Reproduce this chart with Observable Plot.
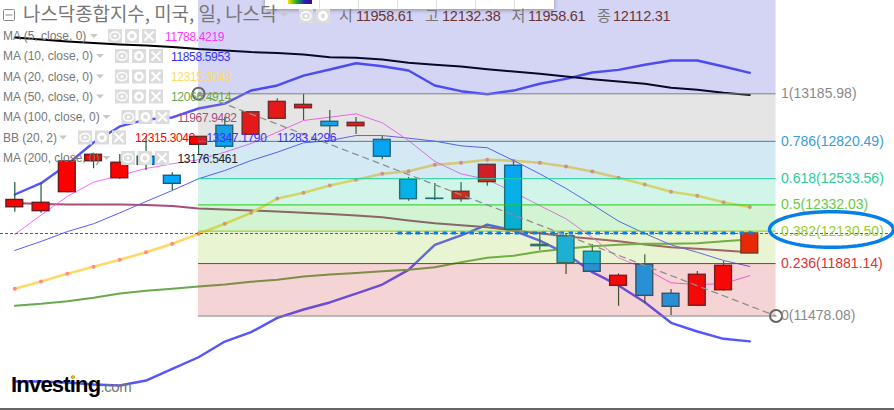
<!DOCTYPE html>
<html><head><meta charset="utf-8">
<script src="https://cdn.jsdelivr.net/npm/d3@7"></script>
<script src="https://cdn.jsdelivr.net/npm/@observablehq/plot@0.6"></script>
<style>html,body{margin:0;background:#fff}svg{display:block}</style>
</head><body><div id="chart"></div>
<script>
const open  = [12314,12284,12430,12668,12537,12702,12556,12794,12940,12871,12994,13075,12971,12937,12832,12525,12380,12376,12507,12633,12025,12091,11972,11710,11874,11649,11557,11676,11958.61];
const high  = [12504,12499,12672,12729,12719,12858,12579,12858,13006,13050,13148,13181,13058,13004,12858,12543,12497,12504,12645,12660,12122,12112,12028,11802,11948,11682,11820,11897,12132.38];
const low   = [12276,12268,12426,12610,12527,12596,12443,12712,12763,12865,12990,12981,12852,12873,12679,12360,12366,12353,12476,12138,11982,11797,11815,11553,11572,11482,11551,11669,11958.61];
const close = [12370,12348,12666,12717,12656,12640,12494,12855,12779,13044,13124,13101,12937,12963,12702,12376,12378,12433,12640,12141,12015,11884,11818,11787,11633,11549,11795,11864,12112.31];

const ma5   = [12105,12254,12397,12507,12558,12612,12648,12679,12737,12804,12891,12981,13006,13032,12963,12827,12666,12571,12527,12430,12327,12225,12081,11925,11843,11733,11720,11726,11788.42];
const ma10  = [11982,12051,12127,12187,12271,12358,12443,12533,12596,12673,12737,12809,12827,12865,12865,12845,12822,12786,12771,12673,12571,12458,12335,12207,12112,12025,11968,11905,11858.6];
const ma20  = [11687,11743,11802,11856,11910,11968,12033,12110,12187,12271,12381,12425,12481,12525,12571,12591,12640,12656,12679,12671,12656,12627,12589,12540,12489,12433,12402,12353,12315.3];
const ma50  = [11557,11572,11592,11618,11651,11672,11687,11705,11720,11741,11756,11782,11797,11809,11822,11833,11853,11892,11925,11941,11974,11995,12015,12025,12033,12033,12038,12053,12066.49];
const ma100 = [12347,12339,12335,12335,12335,12331,12324,12304,12297,12289,12281,12271,12262,12251,12237,12212,12191,12176,12161,12135,12115,12089,12071,12053,12028,12007,11995,11982,11967.95];
const ma200 = [13619,13603,13588,13576,13565,13557,13546,13530,13519,13507,13500,13488,13467,13463,13450,13424,13409,13396,13375,13357,13340,13319,13298,13280,13263,13232,13217,13194,13176.55];
const bbUp  = [12412,12499,12643,12812,12935,12988,13004,13073,13111,13211,13250,13326,13373,13421,13398,13365,13250,13206,13183,13211,13263,13301,13350,13370,13409,13442,13442,13396,13347.18];
const bbLo  = [10975,10975,10967,10952,10944,10982,11072,11161,11282,11354,11464,11528,11582,11651,11720,11833,12025,12097,12181,12135,12058,11958,11815,11713,11584,11426,11359,11303,11283.43];

const fibRatios = ["1","0.786","0.618","0.5","0.382","0.236","0"];
const fibPrices = [13185.98,12820.49,12533.56,12332.03,12130.50,11881.14,11478.08];
const fibLine   = ["#7f7f7f","#2e86c1","#1fcf9f","#22cc22","#8fc31f","#cc2222","#7f7f7f"];
const fibText   = ["#8a8a8a","#3a9bd5","#2acb9b","#66cc44","#9acd32","#dd3333","#8a8a8a"];
const zoneFill  = ["#2828cd","#7d7d7d","#2391c8","#1ecd91","#23c823","#91c823","#c82828"];
const priceTop = 13903.08, priceBottom = 10751.82, lastClose = 12112.31, markerPrice = 12117;
const fibStart = 7, fibEnd = 29;

const idx = d3.range(open.length);
const candles = idx.map(i => ({i, o: open[i], h: high[i], l: low[i], c: close[i], up: close[i] >= open[i]}));
const series = a => a.map((v, i) => ({i, v}));
const zoneEdges = [priceTop, ...fibPrices];
const zones = zoneFill.map((fill, k) => ({y1: zoneEdges[k], y2: zoneEdges[k + 1], fill}));
const fibs = fibRatios.map((r, k) => ({r, p: fibPrices[k], line: fibLine[k], text: fibText[k], label: `${r}(${fibPrices[k].toFixed(2)})`}));
const halfBody = 0.32;
const lineOf = (a, stroke, w) => Plot.line(series(a), {x: "i", y: "v", stroke, strokeWidth: w, curve: "linear"});
const ell = {cx: 31.11, cy: 12143, rx: 2.36, ry: 137};
const ellipse = d3.range(0, 72).map(k => ({x: ell.cx + ell.rx * Math.cos(k * Math.PI / 36), y: ell.cy + ell.ry * Math.sin(k * Math.PI / 36)}));

const FONT = "'Liberation Sans', sans-serif";
const chart = Plot.plot({
  width: 894, height: 410, margin: 0,
  style: {background: "#fff", fontFamily: FONT},
  x: {domain: [0, 28], range: [14.3, 749.3], axis: null},
  y: {domain: [priceBottom, priceTop], range: [410, 0], axis: null},
  marks: [
    lineOf(bbLo, "#5555ff", 2.4),
    lineOf(bbUp, "#5555ff", 2.4),
    lineOf(ma200, "#000", 2),
    lineOf(ma100, "#a64d79", 2),
    lineOf(ma50, "#6aa84f", 2),
    lineOf(ma20, "#ffd966", 2.6),
    Plot.dot(series(ma20), {x: "i", y: "v", r: 2, fill: "#ff8a80"}),
    lineOf(ma10, "#5a5aff", 1),
    lineOf(ma5, "#ff66ff", 1),
    Plot.ruleX(candles, {x: "i", y1: "h", y2: "l", stroke: "#1e5a3a", strokeWidth: 1.2}),
    Plot.rect(candles, {x1: d => d.i - halfBody, x2: d => d.i + halfBody, y1: "o", y2: "c",
      fill: d => d.up ? "#ff0000" : "#00aaff", stroke: d => d.up ? "#6a1a1a" : "#1c5a70", strokeWidth: 1.4}),
    Plot.rect(zones, {x1: fibStart, x2: fibEnd, y1: "y1", y2: "y2", fill: "fill", fillOpacity: 0.2}),
    Plot.ruleY(fibs, {x1: fibStart, x2: fibEnd, y: "p", stroke: "line", strokeWidth: 1}),
    Plot.ruleY([lastClose], {stroke: "#1f5fff", strokeWidth: 1, strokeDasharray: "3,2"}),
    Plot.ruleY([markerPrice], {x1: 14.6, x2: 28.2, stroke: "#0a7de8", strokeWidth: 3, strokeDasharray: "4.5,4.5"}),
    Plot.line([{i: fibStart, v: fibPrices[0]}, {i: fibEnd, v: fibPrices[6]}], {x: "i", y: "v", stroke: "#8f8f8f", strokeWidth: 1.3, strokeDasharray: "6,5"}),
    Plot.dot([{i: fibStart, v: fibPrices[0]}, {i: fibEnd, v: fibPrices[6]}], {x: "i", y: "v", r: 6, stroke: "#666", strokeWidth: 2, fill: "none"}),
    Plot.text(fibs, {x: fibEnd, y: "p", text: "label", fill: "text", dx: 5, textAnchor: "start", fontSize: 14}),
    Plot.line(ellipse, {x: "x", y: "y", stroke: "#0480e8", strokeWidth: 3.5, curve: "linear-closed"})
  ]
});
document.getElementById("chart").appendChild(chart);

// instrument chrome: title, legend rows, header quote, toolbar, logo
const legendLabels = ["MA (5, close, 0)","MA (10, close, 0)","MA (20, close, 0)","MA (50, close, 0)","MA (100, close, 0)","BB (20, 2)","MA (200, close, 0)"];
const legendValues = ["11788.4219","11858.5953","12315.3043","12066.4914","11967.9482","12315.3043","13176.5461"];
const legendColors = ["#ff33ff","#3333ff","#ffd966","#6aa84f","#a64d79","#ff0000","#222222"];
const legendRowY   = [36,56,76.5,96.5,117,137.5,158];
const legendIconX  = [108,115,115,115,121.5,78,121];
const legendValueX = [165,171,171,171,177.5,135,177.5];
const legendArrowX = [94,100,100,100,106.5,63,106.5];
const bbExtra = [["13347.1790",206.5],["11283.4296",277]];
const quoteLabels = [["시",339],["고",425],["저",511.5],["종",597]];
const quoteValues = [["11958.61",356],["12132.38",442],["11958.61",528],["12112.31",613]];

const svg = d3.select(chart);
const g = svg.append("g").attr("font-family", FONT).attr("text-anchor", "start");
const txt = (s, x, y, size, fill, fam, ls) => g.append("text").text(s).attr("x", x).attr("y", y)
  .attr("font-size", size).attr("fill", fill).attr("font-family", fam || null).attr("letter-spacing", ls || null);
const arrow = (x, y) => g.append("path").attr("d", `M${x-4},${y-2}L${x+4},${y-2}L${x},${y+2}Z`).attr("fill", "#c8c8c8");
const icons = (x, y, n) => {
  const kinds = ["eye","gear","x"].slice(0, n);
  kinds.forEach((k, j) => {
    const l = x + j * 17, c = l + 7;
    g.append("rect").attr("x", l).attr("y", y - 7).attr("width", 14).attr("height", 14).attr("fill", "#dcdcdc");
    if (k === "eye") {
      g.append("ellipse").attr("cx", c).attr("cy", y).attr("rx", 5).attr("ry", 4).attr("fill", "none").attr("stroke", "#fff").attr("stroke-width", 1.4);
      g.append("circle").attr("cx", c).attr("cy", y).attr("r", 1.6).attr("fill", "#fff");
    } else if (k === "gear") {
      g.append("circle").attr("cx", c).attr("cy", y).attr("r", 3.6).attr("fill", "none").attr("stroke", "#fff").attr("stroke-width", 2.6);
    } else {
      g.append("path").attr("d", `M${c-4.5},${y-4.5}L${c+4.5},${y+4.5}M${c+4.5},${y-4.5}L${c-4.5},${y+4.5}`).attr("stroke", "#fff").attr("stroke-width", 1.8);
    }
  });
};
// toolbar strip
g.append("rect").attr("x", 265).attr("y", -4).attr("width", 289).attr("height", 13).attr("fill", "#fff")
  .style("filter", "drop-shadow(0 1px 2px rgba(0,0,0,.35))");
const defs = svg.append("defs");
const grad = defs.append("linearGradient").attr("id", "rb");
[["0%","#ffe000"],["35%","#20b020"],["70%","#2020c0"],["100%","#500090"]].forEach(([o,c]) => grad.append("stop").attr("offset", o).attr("stop-color", c));
g.append("rect").attr("x", 288).attr("y", 0).attr("width", 24).attr("height", 4).attr("fill", "url(#rb)");
d3.range(6).forEach(k => g.append("rect").attr("x", 319 + 39 * k).attr("y", 0).attr("width", 1).attr("height", 9).attr("fill", "#e0e0e0"));
// title
g.append("rect").attr("x", 3.5).attr("y", 9.5).attr("width", 11).attr("height", 11).attr("rx", 1).attr("fill", "none").attr("stroke", "#888");
g.append("rect").attr("x", 5.5).attr("y", 14.5).attr("width", 7).attr("height", 1).attr("fill", "#888");
txt("나스닥종합지수, 미국, 일, 나스닥", 23, 21, 18.9, "#777", "'Noto Sans CJK KR'");
arrow(284, 15);
icons(299, 16, 2);
quoteLabels.forEach(([s, x]) => txt(s, x, 21, 15, "#777", "'Noto Sans CJK KR'"));
quoteValues.forEach(([s, x]) => txt(s, x, 21, 14.5, "#6b3535", null, -0.25));
// legend
legendLabels.forEach((s, k) => {
  const y = legendRowY[k];
  txt(s, 3, y + 4, 12, "#777");
  arrow(legendArrowX[k], y);
  icons(legendIconX[k], y, 3);
  txt(legendValues[k], legendValueX[k], y + 4.5, 12, legendColors[k], null, -0.34);
});
bbExtra.forEach(([s, x]) => txt(s, x, 142, 12, "#3333ff", null, -0.34));
// logo
const logo = g.append("text").attr("x", 11).attr("y", 392).attr("font-size", 22).attr("font-weight", 700).attr("letter-spacing", -0.8).attr("fill", "#000").text("Investing");
logo.append("tspan").text(".com").attr("font-weight", 400).attr("font-size", 15).attr("letter-spacing", -0.4).attr("fill", "#777");
g.append("circle").attr("cx", 73).attr("cy", 377).attr("r", 2).attr("fill", "#f5a623");
// window edge
g.append("rect").attr("x", 0).attr("y", 408).attr("width", 894).attr("height", 2).attr("fill", "#666");
</script></body></html>
